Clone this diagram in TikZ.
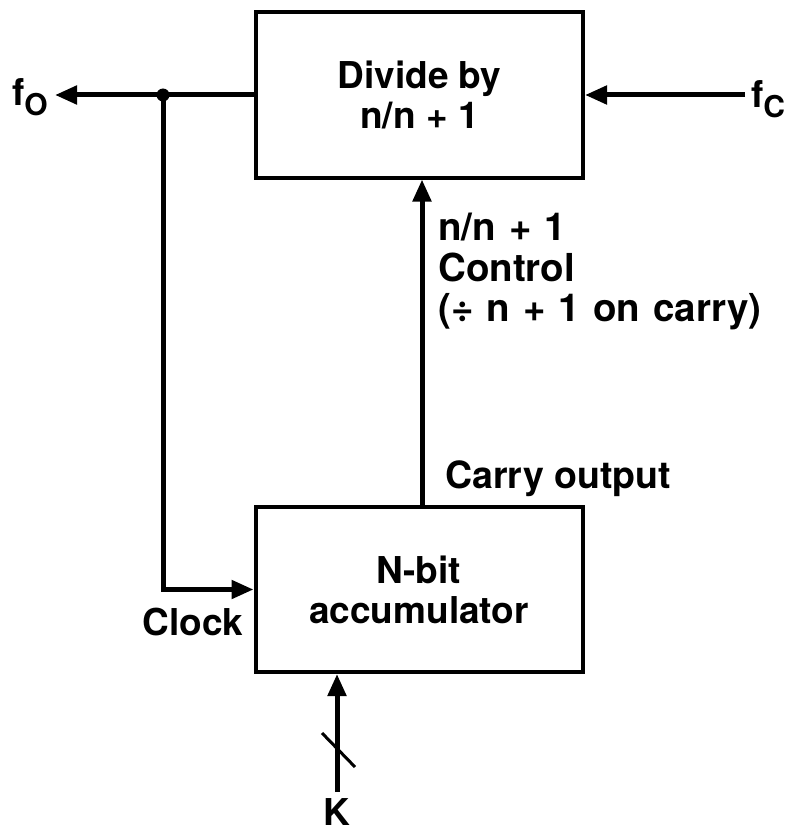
\documentclass[tikz,border=0pt]{standalone}
\usepackage{fontspec}
\setmainfont{TeX Gyre Heros}
\usetikzlibrary{arrows.meta,calc}
\begin{document}
\begin{tikzpicture}[x=1pt,y=-1pt,
  txt/.style={font=\bfseries\fontsize{37}{40}\selectfont, inner sep=0pt},
  blk/.style={draw, line width=4pt, minimum width=327pt, minimum height=165pt, inner sep=0pt,
              font=\bfseries\fontsize{37}{40}\selectfont, align=center},
  wire/.style={line width=5pt},
  arr/.style={line width=5pt, -{Triangle[length=22pt,width=18pt]}}]
\useasboundingbox (0,0) rectangle (790,832);
\node[blk] (div) at (419.5,95) {Divide by\\n/n + 1};
\node[blk] (acc) at (419,589.5) {N-bit\\accumulator};
\coordinate (dot) at (163,95);
\coordinate (fcin) at (745,95);
\coordinate (fout) at (55,95);
\coordinate (cx) at (422,0);
\coordinate (kin) at (337,792);
\coordinate (s1) at (322,733);
\coordinate (s2) at (355,767);
\draw[arr] (div.west) -- (fout);
\fill (dot) circle (6.5);
\draw[arr, line join=miter] (dot) |- (acc.west);
\draw[arr] (fcin) -- (div.east);
\draw[arr] (acc.north -| cx) -- (div.south -| cx);
\draw[arr] (kin) -- (acc.south -| kin);
\draw[line width=3pt] (s1) -- (s2);
\node[txt] (fo) at (30,97) {f\raisebox{-10pt}{\fontsize{30}{30}\selectfont O}};
\node[txt] (fc) at (768,99) {f\raisebox{-10pt}{\fontsize{30}{30}\selectfont C}};
\node[txt, anchor=center] (clock) at (193,622) {Clock};
\node[txt, anchor=north west, align=left, font={\bfseries\fontsize{38.5}{40.5}\selectfont\spaceskip 0.34em\relax}] (ctl) at (438,213) {n/n + 1\\Control\\(÷ n + 1 on carry)};
\node[txt, anchor=base west, font=\bfseries\fontsize{37.5}{40}\selectfont] (co) at (445,488) {Carry output};
\node[txt] (k) at (337,812) {K};
\end{tikzpicture}
\end{document}
